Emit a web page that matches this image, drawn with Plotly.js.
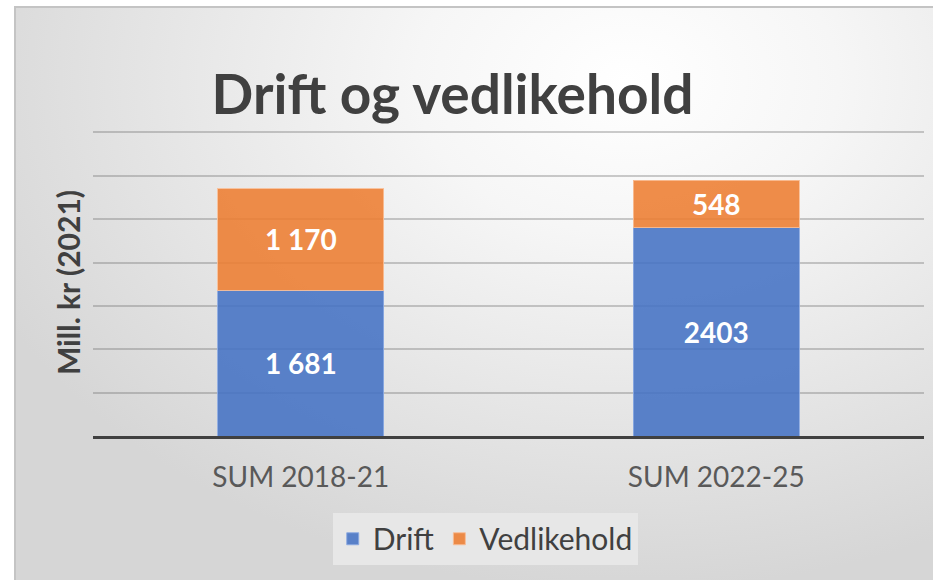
<!DOCTYPE html>
<html>
<head>
<meta charset="utf-8">
<script src="https://cdn.plot.ly/plotly-3.0.1.min.js"></script>
<style>
  html, body { margin:0; padding:0; background:#ffffff; }
  #wrap { position:relative; width:933px; height:580px; overflow:hidden; }
  #bg { position:absolute; left:14px; top:6px; width:940px; height:600px;
        border-left:2px solid #c4c4c4; border-top:2px solid #c4c4c4;
        background: radial-gradient(ellipse 75% 85% at 65% 12%, #ffffff 0%, #f6f6f6 30%, #e6e6e6 65%, #d6d6d6 100%); }
  #chart { position:absolute; left:0; top:0; width:933px; height:580px; }
</style>
</head>
<body>
<div id="wrap">
  <div id="bg"></div>
  <div id="chart"></div>
</div>
<script>
const categories = ["SUM 2018-21", "SUM 2022-25"];
const driftValues = [1681, 2403];
const vedlikeholdValues = [1170, 548];
const driftLabels = ["1 681", "2403"];
const vedlikeholdLabels = ["1 170", "548"];
const seriesNames = ["Drift", "Vedlikehold"];
const gridValues = [500, 1000, 1500, 2000, 2500, 3000, 3500];

const FONT = "Lato, 'Open Sans', sans-serif";

const traces = [
  {
    type: "bar", name: seriesNames[0], x: categories, y: driftValues,
    text: driftLabels, textposition: "inside", insidetextanchor: "middle",
    textangle: 0, constraintext: "none",
    textfont: {family: FONT, size: 28, color: "#ffffff", weight: 700},
    marker: {color: "rgba(68,114,196,0.88)", line: {color: "rgba(140,170,225,0.9)", width: 1}},
    hoverinfo: "skip"
  },
  {
    type: "bar", name: seriesNames[1], x: categories, y: vedlikeholdValues,
    text: vedlikeholdLabels, textposition: "inside", insidetextanchor: "middle",
    textangle: 0, constraintext: "none",
    textfont: {family: FONT, size: 28, color: "#ffffff", weight: 700},
    marker: {color: "rgba(237,125,49,0.88)", line: {color: "rgba(248,190,150,0.9)", width: 1}},
    hoverinfo: "skip"
  }
];

const layout = {
  width: 933, height: 580,
  paper_bgcolor: "rgba(0,0,0,0)", plot_bgcolor: "rgba(0,0,0,0)",
  margin: {l: 93, r: 9, t: 128.5, b: 144},
  barmode: "stack", bargap: 0.6,
  font: {family: FONT, color: "#404040"},
  title: {
    text: "<b>Drift og vedlikehold</b>",
    font: {family: FONT, size: 55, color: "#404040"},
    x: 0.485, xanchor: "center", xref: "container",
    y: 0.836, yanchor: "middle", yref: "container"
  },
  xaxis: {
    type: "category", showgrid: false,
    showline: true, linecolor: "#404040", linewidth: 3,
    ticks: "", tickfont: {family: FONT, size: 28, color: "#595959"},
    ticklabelstandoff: 14
  },
  yaxis: {
    range: [0, 3540], tickvals: gridValues, showticklabels: false,
    showgrid: true, gridcolor: "rgba(110,110,110,0.35)", gridwidth: 2,
    zeroline: false, showline: false, ticks: "",
    title: {text: "<b>Mill. kr (2021)</b>", font: {family: FONT, size: 30, color: "#404040"}, standoff: 2}
  },
  showlegend: true,
  legend: {
    orientation: "h", x: 0.472, xanchor: "center", y: -0.25, yanchor: "top",
    bgcolor: "#e7e7e7", borderwidth: 0,
    font: {family: FONT, size: 30, color: "#404040"},
    traceorder: "normal", itemwidth: 30
  }
};

Plotly.newPlot("chart", traces, layout, {displayModeBar: false, staticPlot: true});
</script>
</body>
</html>
